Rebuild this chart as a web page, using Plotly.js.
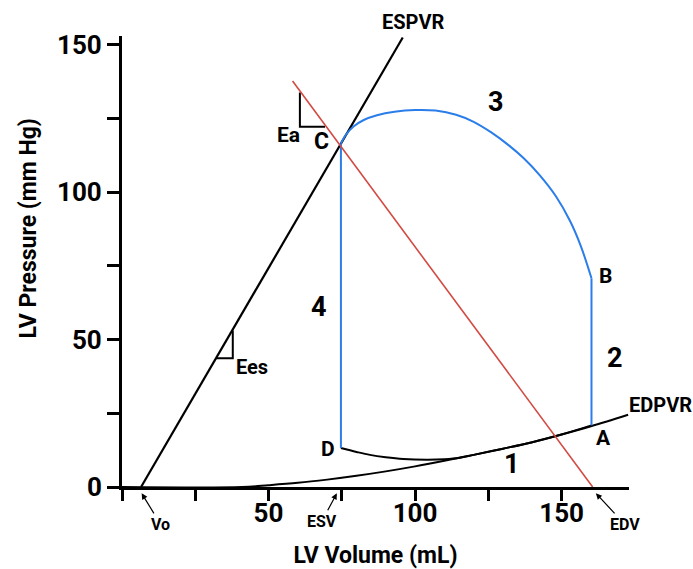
<!DOCTYPE html>
<html>
<head>
<meta charset="utf-8">
<script src="https://cdn.plot.ly/plotly-3.0.1.min.js"></script>
<style>html,body{margin:0;padding:0;background:#fff;}#chart{width:693px;height:569px;}</style>
</head>
<body>
<div id="chart"></div>
<script>
// ---- data (LV volume in mL, LV pressure in mm Hg) ----
const espvrV = [6.5, 95.8];
const espvrP = [0, 152.5];
const eaV = [58.2, 160.6];
const eaP = [137.7, 0];
const edpvrV = [0, 41, 50, 60, 70, 80, 90, 100, 110, 120, 130, 140, 150, 160, 172.7];
const edpvrP = [0, 0, 0.6, 1.4, 2.5, 3.8, 5.3, 7.0, 8.9, 10.9, 13.0, 15.2, 17.8, 20.6, 24.5];
const fillV = [74.7, 80, 84.6, 90, 96, 104, 110, 115.3, 120, 130, 140, 150, 160.2];
const fillP = [13.2, 11.9, 10.9, 10.1, 9.5, 9.25, 9.4, 9.9, 10.9, 13.0, 15.2, 17.8, 20.9];
const contractV = [160.2, 160.2];
const contractP = [20.9, 70.8];
const ejectV = [74.7, 76.5, 79, 82.5, 87, 93, 100, 107, 114, 120, 126, 132, 137, 142.5, 148, 152.8, 156.5, 160.2];
const ejectP = [116.6, 119.6, 122.3, 124.5, 126.1, 127.3, 127.9, 127.7, 126.3, 123.9, 120.3, 115.9, 111.6, 105.8, 98.7, 90.4, 81.9, 70.8];
const relaxV = [74.7, 74.7];
const relaxP = [116.6, 13.2];
const eesTriV = [32.1, 37.8, 37.8];
const eesTriP = [43.7, 43.7, 53.1];
const eaTriV = [60.7, 60.7, 69.3];
const eaTriP = [133.8, 122.2, 122.2];
const Vo = 6.7, ESV = 73.3, EDV = 161.7;
const xTickVals = [0, 25, 50, 75, 100, 125, 150];
const xTickText = ["", "", "50", "", "100", "", "150"];
const yTickVals = [0, 25, 50, 75, 100, 125, 150];
const yTickText = ["0", "", "50", "", "100", "", "150"];

const FONT = "Roboto, Liberation Sans, sans-serif";
const BLUE = "#2b7de9", RED = "#d24a43";
const X_RANGE = [0, 173], Y_RANGE = [0, 153];

function line(x, y, color, width, shape, xaxis) {
  return {x: x, y: y, type: "scatter", mode: "lines", hoverinfo: "skip", showlegend: false,
    xaxis: xaxis || "x", yaxis: "y",
    line: {color: color, width: width, shape: shape || "linear", smoothing: 1}, cliponaxis: true};
}
const traces = [
  line(edpvrV, edpvrP, "#000", 2, "spline"),
  line(fillV, fillP, "#000", 2, "spline"),
  line(espvrV, espvrP, "#000", 2.2),
  line(eaV, eaP, RED, 1.6, "linear", "x2"),
  line(contractV, contractP, BLUE, 2),
  line(ejectV, ejectP, BLUE, 2, "spline"),
  line(relaxV, relaxP, BLUE, 2),
  line(eesTriV, eesTriP, "#000", 2),
  line(eaTriV, eaTriP, "#000", 2)
];

// pixel -> paper helper for label placement
function at(px, py) { return {xref: "paper", yref: "paper", x: (px - 122) / 507, y: (487 - py) / 451}; }
function label(text, px, py, size) {
  return Object.assign(at(px, py), {text: text, showarrow: false, xanchor: "center", yanchor: "middle",
    font: {family: FONT, size: size, color: "#000", weight: 700}});
}
function arrowLabel(text, vx, ax, ay) {
  return {xref: "x", yref: "paper", x: vx, y: -0.014, text: text, showarrow: true, ax: ax, ay: ay,
    arrowhead: 2, arrowsize: 1, arrowwidth: 1.2, arrowcolor: "#000", standoff: 0, startstandoff: 0,
    font: {family: FONT, size: 16, color: "#000", weight: 700}};
}
const annotations = [
  label("ESPVR", 413, 22, 20),
  label("EDPVR", 660, 405, 20),
  label("3", 496, 102, 27),
  label("2", 615, 358, 27),
  label("1", 512, 464, 27),
  label("4", 319, 307, 27),
  label("A", 603.5, 438, 21),
  label("B", 605.5, 276, 21),
  label("C", 321, 141, 23),
  label("D", 327.5, 449, 21),
  label("Ea", 288.5, 135, 21),
  label("Ees", 252, 367, 20),
  arrowLabel("Vo", Vo, 19, 31),
  arrowLabel("ESV", ESV, -15, 28),
  arrowLabel("EDV", EDV, 29, 31),
  Object.assign(at(27.5, 229), {text: "LV Pressure (mm Hg)", showarrow: false, textangle: -90,
    xanchor: "center", yanchor: "middle", font: {family: FONT, size: 23, color: "#000", weight: 700}})
];

const tickFont = {family: FONT, size: 26, color: "#000", weight: 700};
const layout = {
  width: 693, height: 569,
  margin: {l: 122, r: 64, t: 36, b: 82},
  paper_bgcolor: "#fff", plot_bgcolor: "#fff",
  showlegend: false,
  // axis line + tick marks
  xaxis: {range: X_RANGE, showline: true, linewidth: 3, linecolor: "#000", ticks: "outside", ticklen: 11,
    tickwidth: 3, tickcolor: "#000", tickmode: "array", tickvals: xTickVals, showticklabels: false,
    showgrid: false, zeroline: false, fixedrange: true},
  // overlaid twin axis carrying the x tick labels and title
  xaxis2: {range: X_RANGE, overlaying: "x", anchor: "y", side: "bottom", showline: false, ticks: "",
    tickmode: "array", tickvals: xTickVals, ticktext: xTickText, tickfont: tickFont, ticklabelstandoff: 8,
    showgrid: false, zeroline: false, fixedrange: true,
    title: {text: "LV Volume (mL)", standoff: 26, font: {family: FONT, size: 23, color: "#000", weight: 700}}},
  yaxis: {range: Y_RANGE, showline: true, linewidth: 3, linecolor: "#000", ticks: "outside", ticklen: 12,
    tickwidth: 3, tickcolor: "#000", tickmode: "array", tickvals: yTickVals, ticktext: yTickText,
    tickfont: tickFont, showgrid: false, zeroline: false, fixedrange: true},
  annotations: annotations
};
Plotly.newPlot("chart", traces, layout, {staticPlot: true, displayModeBar: false});
</script>
</body>
</html>
